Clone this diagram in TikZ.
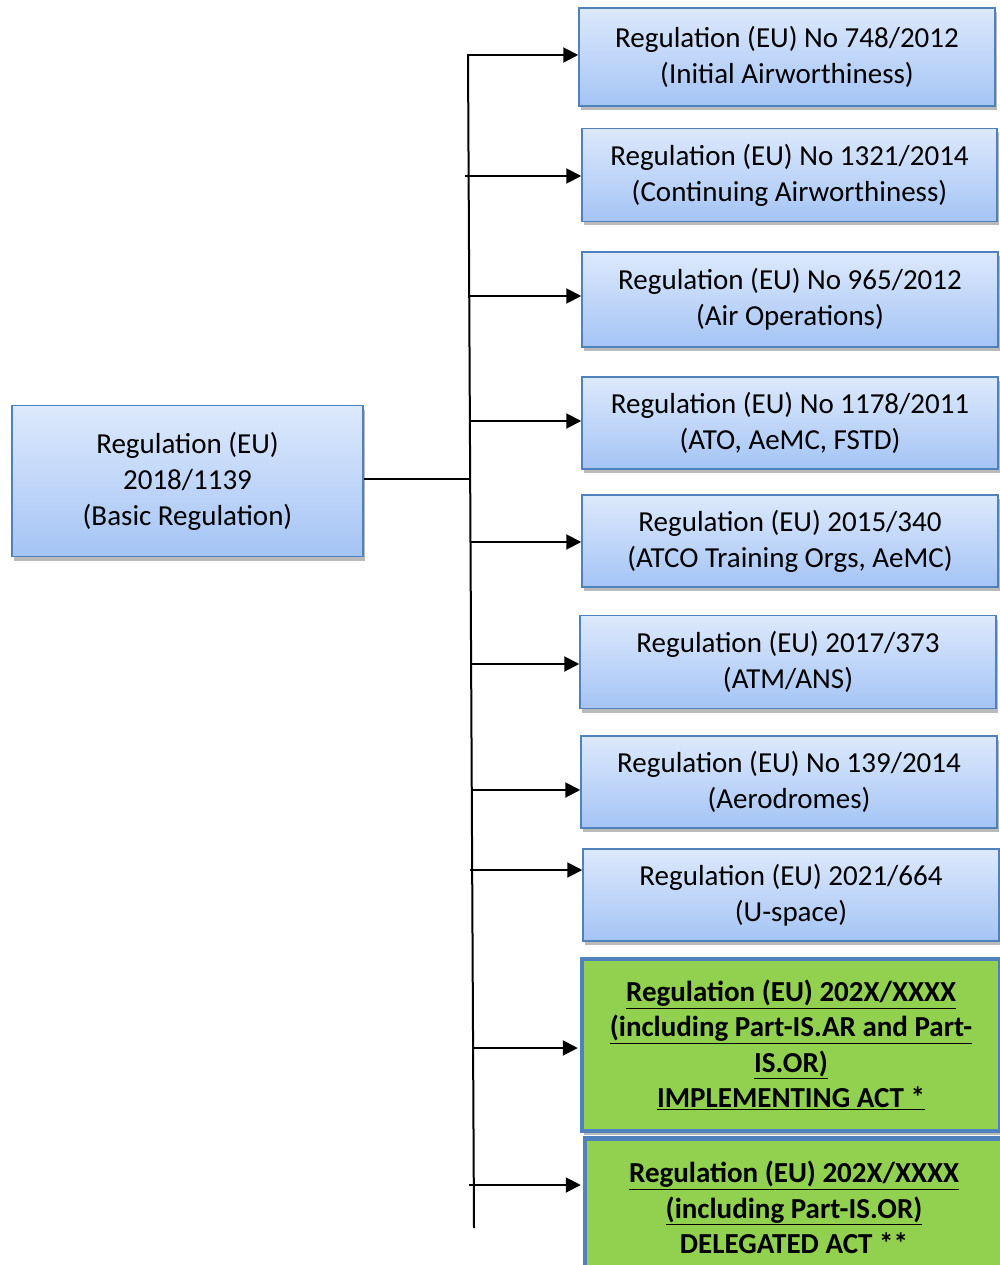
\documentclass[tikz,border=0pt]{standalone}
\usepackage{fontspec}
\setmainfont{Carlito}
\usetikzlibrary{arrows.meta,shadows}
\definecolor{bordblue}{HTML}{4F81BD}
\definecolor{topblue}{HTML}{DDE9FC}
\definecolor{botblue}{HTML}{A4C4F5}
\definecolor{greenfill}{HTML}{92D050}
\newcommand{\ul}[1]{\underline{#1}}
\tikzset{
  regbox/.style={draw=bordblue, line width=1.5pt, top color=topblue, bottom color=botblue,
    minimum height=#1, inner sep=0pt, align=center, font=\fontsize{29pt}{36pt}\selectfont,
    drop shadow={shadow xshift=2pt, shadow yshift=-4pt, opacity=0.45, fill=black!60}},
  greenbox/.style={draw=bordblue, line width=4.5pt, fill=greenfill,
    minimum height=#1, inner sep=0pt, align=center, font=\fontsize{29pt}{35.5pt}\selectfont\bfseries,
    drop shadow={shadow xshift=2pt, shadow yshift=-4pt, opacity=0.45, fill=black!60}},
  conn/.style={line width=2pt, black},
  arr/.style={line width=2pt, black, -{Triangle[length=15pt,width=15pt]}},
}
\begin{document}
\begin{tikzpicture}[x=1pt,y=-1pt]
\useasboundingbox (0,0) rectangle (1000,1265);
\fill[white] (0,0) rectangle (1000,1265);

\node[regbox=151pt, minimum width=351pt] (base) at (187.5,481)
  {Regulation (EU)\\2018/1139\\(Basic Regulation)};

\node[regbox=98pt, minimum width=416pt] (r1) at (787,57)
  {Regulation (EU) No 748/2012\\(Initial Airworthiness)};
\node[regbox=93pt, minimum width=415pt] (r2) at (789.5,175)
  {Regulation (EU) No 1321/2014\\(Continuing Airworthiness)};
\node[regbox=95pt, minimum width=416pt] (r3) at (790,299.5)
  {Regulation (EU) No 965/2012\\(Air Operations)};
\node[regbox=92pt, minimum width=416pt] (r4) at (790,423)
  {Regulation (EU) No 1178/2011\\(ATO, AeMC, FSTD)};
\node[regbox=92pt, minimum width=416pt] (r5) at (790,541)
  {Regulation (EU) 2015/340\\(ATCO Training Orgs, AeMC)};
\node[regbox=93pt, minimum width=416pt] (r6) at (788,662)
  {Regulation (EU) 2017/373\\(ATM/ANS)};
\node[regbox=92pt, minimum width=416pt] (r7) at (789,782)
  {Regulation (EU) No 139/2014\\(Aerodromes)};
\node[regbox=92pt, minimum width=416pt] (r8) at (791,895)
  {Regulation (EU) 2021/664\\(U-space)};
\node[greenbox=172pt, minimum width=418pt] (r9) at (791,1045)
  {\ul{Regulation (EU) 202X/XXXX}\\\ul{(including Part-IS.AR and Part-}\\\ul{IS.OR)}\\\ul{IMPLEMENTING ACT *}};
\node[greenbox=138pt, minimum width=418pt] (r10) at (794,1207.5)
  {\ul{Regulation (EU) 202X/XXXX}\\\ul{(including Part-IS.OR)}\\DELEGATED ACT **};

% spine
\coordinate (top) at (468,55);
\coordinate (bot) at (474,1228);
\coordinate (join) at (470,479);
\draw[conn] (top) -- (bot);
\draw[conn] (base.east |- join) -- (join);

\coordinate (s1) at (467,55);
\coordinate (s2) at (465,176);
\coordinate (s3) at (469,296);
\coordinate (s4) at (469,421);
\coordinate (s5) at (470,542);
\coordinate (s6) at (471,664);
\coordinate (s7) at (471,790);
\coordinate (s8) at (470,870);
\coordinate (s9) at (472,1048);
\coordinate (s10) at (469,1185);

\draw[arr] (s1) -- (s1 -| r1.west);
\draw[arr] (s2) -- (s2 -| r2.west);
\draw[arr] (s3) -- (s3 -| r3.west);
\draw[arr] (s4) -- (s4 -| r4.west);
\draw[arr] (s5) -- (s5 -| r5.west);
\draw[arr] (s6) -- (s6 -| r6.west);
\draw[arr] (s7) -- (s7 -| r7.west);
\draw[arr] (s8) -- (s8 -| r8.west);
\draw[arr] (s9) -- ([xshift=-2pt]s9 -| r9.west);
\draw[arr] (s10) -- ([xshift=-2pt]s10 -| r10.west);
\end{tikzpicture}
\end{document}
